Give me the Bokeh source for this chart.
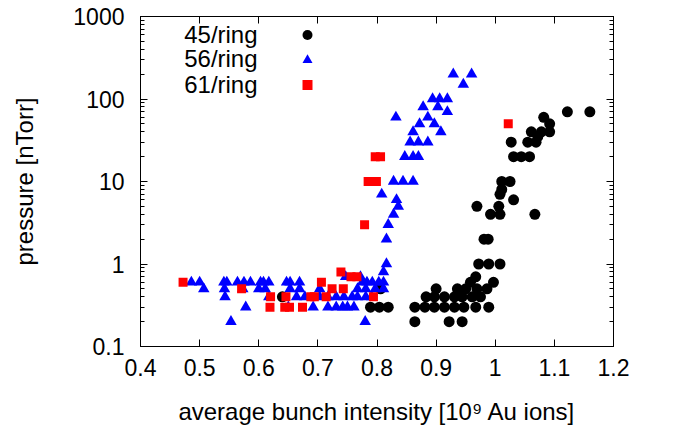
from bokeh.plotting import figure
from bokeh.models import (FixedTicker, CustomJSTickFormatter, LinearAxis, LogAxis,
                          Legend, LegendItem, Label)
from bokeh.embed import file_html
from bokeh.resources import INLINE

# ---------------- data ----------------
ring45_x = [0.864, 0.922, 0.944,
            0.789, 0.804, 0.819, 0.864, 0.881, 0.897, 0.914, 0.931, 0.947, 0.967, 0.989,
            0.640, 0.883, 0.897, 0.914, 0.931, 0.944, 0.961, 0.975,
            0.806, 0.900, 0.936, 0.950, 0.969, 0.986,
            0.958, 0.997,
            0.967,
            0.972, 0.989, 1.008,
            0.981, 0.988,
            0.992, 1.008, 1.067,
            0.969, 1.006,
            1.031, 1.008, 1.011,
            1.011, 1.025,
            1.031, 1.044, 1.058,
            1.027, 1.055, 1.069, 1.072,
            1.061, 1.078, 1.092,
            1.092, 1.082,
            1.122, 1.160]
ring45_y = ([0.2] * 3 + [0.3] * 11 + [0.4] * 8 + [0.5] * 6 + [0.6] * 2 + [0.7]
            + [1] * 3 + [2] * 2 + [4] * 3 + [5] * 2 + [6, 7, 8] + [10] * 2
            + [20] * 3 + [30, 30, 30, 35] + [40] * 3 + [50, 60] + [70, 70])

ring56_x = [0.486, 0.500, 0.541, 0.546, 0.564, 0.575, 0.586, 0.603, 0.608, 0.617,
            0.647, 0.653, 0.669, 0.775, 0.783, 0.792, 0.803, 0.811,
            0.507, 0.542, 0.573, 0.600, 0.611, 0.653, 0.669, 0.703, 0.767, 0.781,
            0.797, 0.811,
            0.543, 0.617, 0.664, 0.678, 0.703, 0.717, 0.731, 0.744, 0.758, 0.767,
            0.781, 0.791,
            0.578, 0.650, 0.692, 0.717, 0.731, 0.742, 0.750, 0.761,
            0.553, 0.780,
            0.747, 0.772,
            0.811, 0.816, 0.816, 0.819, 0.828, 0.836, 0.833, 0.808,
            0.828, 0.844, 0.861,
            0.847, 0.861, 0.870,
            0.856, 0.870, 0.886,
            0.861, 0.908,
            0.872, 0.897,
            0.832, 0.886,
            0.919,
            0.878, 0.903,
            0.894, 0.906, 0.919,
            0.946,
            0.929, 0.960]
ring56_y = ([0.6] * 18 + [0.5] * 12 + [0.4] * 12 + [0.3] * 8 + [0.2] * 2 + [0.7] * 2
            + [0.8, 1, 2, 3, 4, 5, 6, 7] + [10] * 3 + [20] * 3 + [30] * 3
            + [40] * 2 + [50] * 2 + [60] * 2 + [70] + [80] * 2 + [100] * 3
            + [150] + [200] * 2)

ring61_x = [0.472, 0.706,
            0.571, 0.724, 0.743,
            0.620, 0.646, 0.688, 0.694, 0.714, 0.794,
            0.619, 0.644, 0.652, 0.674,
            0.739,
            0.756, 0.766,
            0.779,
            0.785, 0.799,
            0.797, 0.806,
            1.022]
ring61_y = ([0.6] * 2 + [0.5] * 3 + [0.4] * 6 + [0.3] * 4 + [0.8] + [0.7] * 2
            + [3] + [10] * 2 + [20] * 2 + [50])

series_labels = ["45/ring", "56/ring", "61/ring"]
x_ticks = [0.4, 0.5, 0.6, 0.7, 0.8, 0.9, 1.0, 1.1, 1.2]
y_ticks = [0.1, 1, 10, 100, 1000]
y_minor = [m * 10.0 ** e for e in range(-1, 3) for m in range(2, 10)]

# legend text anchors (right end of each text, in data space)
legend_text_x = 0.598
legend_text_y = [600, 307, 150]

FONT = "Liberation Sans"
FS_TICK = "23px"
FS_LABEL = "24px"

p = figure(width=673, height=427, x_range=(0.4, 1.2), y_range=(0.1, 1000),
           y_axis_type="log", output_backend="svg", toolbar_location=None,
           min_border_left=140, min_border_right=60, min_border_top=16,
           min_border_bottom=81)
p.xgrid.visible = False
p.ygrid.visible = False
p.outline_line_color = "black"
p.outline_line_width = 1
p.background_fill_color = "white"
p.border_fill_color = "white"

r45 = p.scatter(ring45_x, ring45_y, marker="circle", size=11,
                fill_color="black", line_color=None)
r56 = p.scatter(ring56_x, ring56_y, marker="triangle", size=11.5,
                fill_color="#0000ff", line_color=None)
r61 = p.scatter(ring61_x, ring61_y, marker="square", size=9,
                fill_color="#ff0000", line_color=None)

xfmt = CustomJSTickFormatter(code="return String(parseFloat(tick.toFixed(2)));")
yfmt = CustomJSTickFormatter(code="return String(parseFloat(tick.toPrecision(3)));")
blank = CustomJSTickFormatter(code="return '';")


def style(ax):
    ax.axis_line_color = "black"
    ax.axis_line_width = 1
    ax.major_tick_in = 7
    ax.major_tick_out = 0
    ax.minor_tick_in = 4
    ax.minor_tick_out = 0
    ax.major_tick_line_color = "black"
    ax.minor_tick_line_color = "black"
    ax.major_label_text_font = FONT
    ax.major_label_text_font_size = FS_TICK
    ax.major_label_text_color = "black"
    ax.axis_label_text_font = FONT
    ax.axis_label_text_font_size = FS_LABEL
    ax.axis_label_text_font_style = "normal"
    ax.axis_label_text_color = "black"


xa = p.xaxis[0]
xa.ticker = FixedTicker(ticks=x_ticks)
xa.formatter = xfmt
style(xa)
xa.minor_tick_line_color = None
xa.major_label_standoff = 12
xa.axis_label = "average bunch intensity [10\u2079 Au ions]"
xa.axis_label_standoff = 19

ya = p.yaxis[0]
ya.ticker = FixedTicker(ticks=y_ticks, minor_ticks=y_minor)
ya.formatter = yfmt
style(ya)
ya.major_label_standoff = 16
ya.axis_label = "pressure [nTorr]"
ya.axis_label_standoff = 32

top = LinearAxis(ticker=FixedTicker(ticks=x_ticks), formatter=blank)
style(top)
top.minor_tick_line_color = None
top.major_label_text_font_size = "0px"
top.major_label_standoff = 0
p.add_layout(top, "above")

right = LogAxis(ticker=FixedTicker(ticks=y_ticks, minor_ticks=y_minor), formatter=blank)
style(right)
right.major_label_text_font_size = "0px"
right.major_label_standoff = 0
p.add_layout(right, "right")

# legend keys (markers) via Bokeh's Legend; texts placed to the left of them
legend = Legend(items=[LegendItem(label="", renderers=[r45]),
                       LegendItem(label="", renderers=[r56]),
                       LegendItem(label="", renderers=[r61])],
                location=(151.7, 249.2), glyph_width=30, glyph_height=25,
                label_height=25, label_width=0, spacing=0, padding=0, margin=0,
                label_standoff=0, label_text_font=FONT, label_text_font_size="10px",
                border_line_color=None, background_fill_alpha=0)
p.add_layout(legend)

for lab, ly in zip(series_labels, legend_text_y):
    p.add_layout(Label(x=legend_text_x, y=ly, text=lab, text_align="right",
                       text_baseline="middle", text_font=FONT,
                       text_font_size=FS_LABEL, text_color="black"))

open("out.html", "w").write(file_html(p, INLINE))
